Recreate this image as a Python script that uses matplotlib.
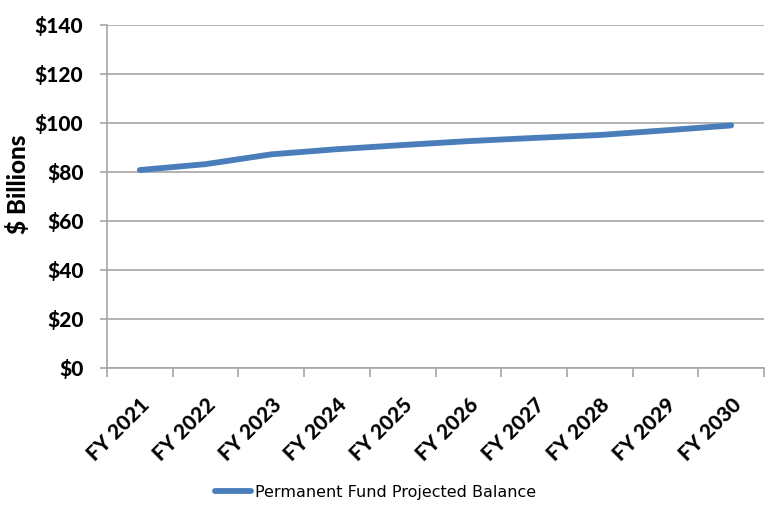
import numpy as np
import matplotlib.pyplot as plt
from matplotlib.ticker import FixedLocator, FuncFormatter

# data
years = ['FY 2021', 'FY 2022', 'FY 2023', 'FY 2024', 'FY 2025',
         'FY 2026', 'FY 2027', 'FY 2028', 'FY 2029', 'FY 2030']
balance = [80.6, 83.0, 87.0, 89.1, 90.8, 92.4, 93.7, 94.9, 96.8, 98.8]
y_ticks = [0, 20, 40, 60, 80, 100, 120, 140]
series_name = 'Permanent Fund Projected Balance'

plt.rcParams['font.family'] = ['Lato', 'DejaVu Sans']
grid_col = '#a6a6a6'
lab_font = dict(family=['Lato', 'DejaVu Sans'], size=15, weight=900)

fig = plt.figure(figsize=(7.68, 5.12), dpi=100)
ax = fig.add_axes([107/768, 1 - 367.5/512, (764-107)/768, (367.5-24.5)/512])

x = np.arange(len(years))
ax.plot(x, balance, color='#4a7ebb', lw=4.2, solid_capstyle='round',
        label=series_name, zorder=3)

ax.set_xlim(-0.5, len(years) - 0.5)
ax.set_ylim(0, 140)
ax.set_yticks(y_ticks)
ax.yaxis.set_major_formatter(FuncFormatter(lambda v, p: f'${v:.0f}'))
ax.grid(axis='y', color=grid_col, lw=1.2)
ax.set_axisbelow(True)

# category boundaries as tick marks, labels in the middle
ax.xaxis.set_major_locator(FixedLocator(np.arange(len(years) + 1) - 0.5))
ax.xaxis.set_major_formatter(FuncFormatter(lambda v, p: ''))
ax.set_xticks(x, minor=True)
ax.set_xticklabels(years, minor=True, rotation=45, ha='right',
                   rotation_mode='anchor', fontdict=lab_font)
ax.tick_params(axis='x', which='minor', length=0, pad=20)
ax.tick_params(axis='x', which='major', length=6.5, color=grid_col, width=1.2)
ax.tick_params(axis='y', length=5, color=grid_col, width=1.2, pad=12)
for lab in ax.get_yticklabels():
    lab.set_fontproperties(lab_font)

for s in ['top', 'right']:
    ax.spines[s].set_visible(False)
for s in ['left', 'bottom']:
    ax.spines[s].set_color(grid_col)
    ax.spines[s].set_linewidth(1.2)

ax.set_ylabel('$ Billions', family=['Lato', 'DejaVu Sans'], size=17.5,
              weight=900, va='center')
ax.yaxis.set_label_coords(-0.135, 0.535)

ax.legend(loc='center', bbox_to_anchor=(376/768, 1 - 492/512),
          bbox_transform=fig.transFigure, frameon=False,
          prop=dict(family=['Liberation Sans Narrow', 'DejaVu Sans'], size=11.5),
          handlelength=2.2, handletextpad=0.3)

fig.savefig('out.png', dpi=100)
